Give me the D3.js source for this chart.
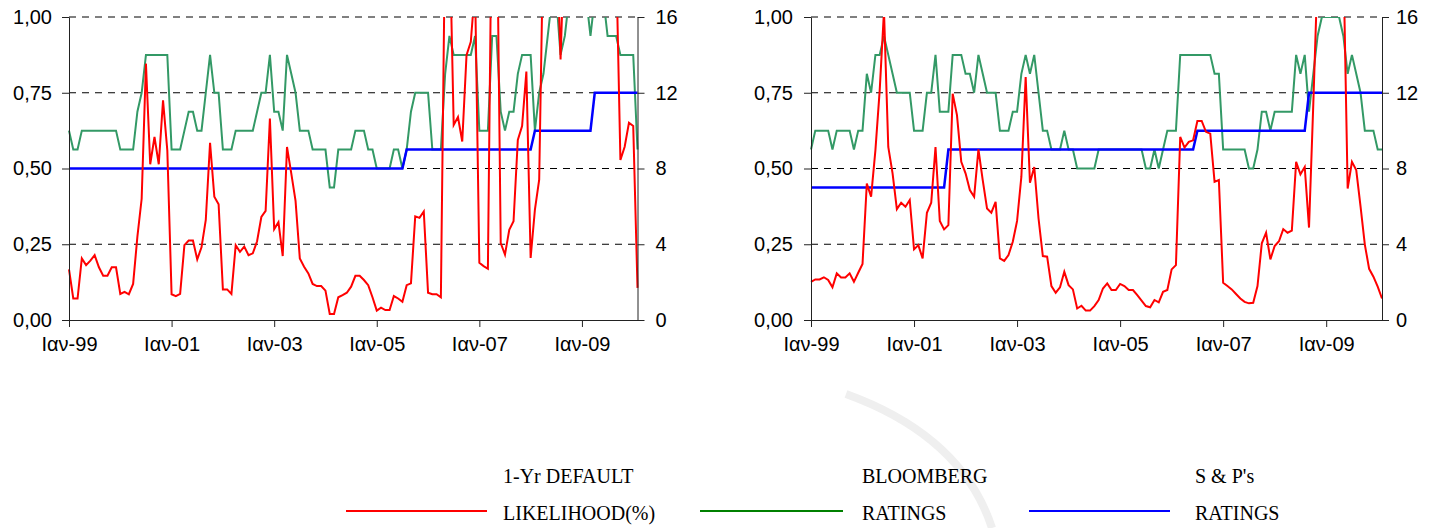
<!DOCTYPE html>
<html>
<head>
<meta charset="utf-8">
<script src="https://cdn.jsdelivr.net/npm/d3@7"></script>
<style>
  body { margin: 0; background: #fff; }
  svg { display: block; }
</style>
</head>
<body>
<svg id="chart" width="1435" height="528"></svg>
<script>
// month index of each x tick (Jan 1999 = 0) and its label
const tickIdx = [0, 24, 48, 72, 96, 120];
const tickLabels = ["Ιαν-99", "Ιαν-01", "Ιαν-03", "Ιαν-05", "Ιαν-07", "Ιαν-09"];
const leftTicks = [0, 0.25, 0.5, 0.75, 1];
const leftTickLabels = ["0,00", "0,25", "0,50", "0,75", "1,00"];
const rightTicks = [0, 4, 8, 12, 16];

// left panel, monthly Jan-99 .. Feb-10
const leftDefault = [
  0.167,0.071,0.071,0.203,0.181,0.196,0.214,0.174,0.146,0.146,
  0.174,0.174,0.086,0.093,0.085,0.119,0.275,0.40,0.846,0.514,
  0.604,0.514,0.725,0.56,0.085,0.079,0.086,0.247,0.262,0.262,
  0.20,0.24,0.33,0.585,0.407,0.382,0.101,0.101,0.086,0.247,
  0.225,0.242,0.214,0.22,0.26,0.34,0.36,0.665,0.30,0.323,
  0.211,0.571,0.484,0.393,0.203,0.176,0.154,0.119,0.112,0.112,
  0.097,0.02,0.02,0.075,0.082,0.09,0.11,0.146,0.146,0.132,
  0.115,0.075,0.031,0.041,0.033,0.033,0.079,0.071,0.06,0.115,
  0.121,0.342,0.337,0.358,0.09,0.085,0.085,0.075,1.3,1.3,
  0.644,0.67,0.589,0.874,0.918,1.1,0.189,0.178,0.169,1.5,
  1.5,0.254,0.216,0.298,0.326,0.594,0.64,0.82,0.205,0.364,
  0.463,1.3,1.3,1.3,1.3,0.86,1.3,1.3,1.3,1.3,
  1.3,1.3,1.3,1.3,1.3,1.3,1.3,1.3,1.2,0.528,
  0.572,0.651,0.64,0.106
];
const leftBloomberg = [
  10,9,9,10,10,10,10,10,10,10,
  10,10,9,9,9,9,11,12,14,14,
  14,14,14,14,9,9,9,10,11,11,
  10,10,12,14,12,12,9,9,9,10,
  10,10,10,10,11,12,12,14,11,11,
  10,14,13,12,10,10,10,9,9,9,
  9,7,7,9,9,9,9,10,10,10,
  9,9,8,8,8,8,9,9,8,9,
  11,12,12,12,12,9,9,9,13,15,
  14,14,14,14,14,15,10,10,10,15,
  15,11,10,11,11,13,14,14,14,10,
  12,13,15,17,17,14,15,17,17,17,
  17,17,15,17,17,17,15,15,15,14,
  14,14,14,9
];
const leftSP = [
  8,8,8,8,8,8,8,8,8,8,
  8,8,8,8,8,8,8,8,8,8,
  8,8,8,8,8,8,8,8,8,8,
  8,8,8,8,8,8,8,8,8,8,
  8,8,8,8,8,8,8,8,8,8,
  8,8,8,8,8,8,8,8,8,8,
  8,8,8,8,8,8,8,8,8,8,
  8,8,8,8,8,8,8,8,8,9,
  9,9,9,9,9,9,9,9,9,9,
  9,9,9,9,9,9,9,9,9,9,
  9,9,9,9,9,9,9,9,9,10,
  10,10,10,10,10,10,10,10,10,10,
  10,10,10,12,12,12,12,12,12,12,
  12,12,12,12
];

// right panel
const rightDefault = [
  0.126,0.134,0.134,0.141,0.132,0.108,0.154,0.14,0.14,0.154,
  0.126,0.156,0.185,0.45,0.407,0.56,0.758,1.02,0.571,0.484,
  0.366,0.387,0.374,0.396,0.233,0.247,0.203,0.354,0.387,0.571,
  0.327,0.299,0.313,0.747,0.676,0.522,0.484,0.429,0.407,0.563,
  0.462,0.368,0.354,0.39,0.203,0.195,0.214,0.258,0.327,0.473,
  0.802,0.453,0.505,0.335,0.211,0.209,0.112,0.09,0.108,0.159,
  0.115,0.101,0.038,0.047,0.031,0.031,0.046,0.066,0.104,0.121,
  0.099,0.099,0.119,0.112,0.099,0.099,0.082,0.064,0.046,0.042,
  0.066,0.058,0.093,0.099,0.167,0.181,0.604,0.569,0.588,0.593,
  0.657,0.657,0.621,0.615,0.456,0.462,0.123,0.112,0.101,0.086,
  0.071,0.06,0.055,0.057,0.112,0.253,0.288,0.2,0.244,0.26,
  0.3,0.288,0.295,0.522,0.481,0.505,0.305,0.714,1.15,1.3,
  1.3,1.3,1.3,1.3,1.2,0.434,0.522,0.495,0.375,0.249,
  0.169,0.143,0.11,0.071
];
const rightBloomberg = [
  9,10,10,10,10,9,10,10,10,10,
  9,10,10,13,12,14,14,15,14,13,
  12,12,12,12,10,10,10,12,12,14,
  11,11,11,14,14,14,13,13,12,14,
  13,12,12,12,10,10,10,11,11,13,
  14,13,14,12,10,10,9,9,9,10,
  9,9,8,8,8,8,8,9,9,9,
  9,9,9,9,9,9,9,9,8,8,
  9,8,9,10,10,10,14,14,14,14,
  14,14,14,14,13,13,9,9,9,9,
  9,9,8,8,9,11,11,10,11,11,
  11,11,11,14,13,14,11,13,15,16,
  16,16,16,16,15,13,14,13,12,10,
  10,10,9,9
];
const rightSP = [
  7,7,7,7,7,7,7,7,7,7,
  7,7,7,7,7,7,7,7,7,7,
  7,7,7,7,7,7,7,7,7,7,
  7,7,9,9,9,9,9,9,9,9,
  9,9,9,9,9,9,9,9,9,9,
  9,9,9,9,9,9,9,9,9,9,
  9,9,9,9,9,9,9,9,9,9,
  9,9,9,9,9,9,9,9,9,9,
  9,9,9,9,9,9,9,9,9,9,
  10,10,10,10,10,10,10,10,10,10,
  10,10,10,10,10,10,10,10,10,10,
  10,10,10,10,10,10,12,12,12,12,
  12,12,12,12,12,12,12,12,12,12,
  12,12,12,12
];

const RED = "#ff0000", GREEN = "#339966", BLUE = "#0000ff";
const svg = d3.select("#chart");
const defs = svg.append("defs");

// faint grey arc in the background
svg.append("path")
  .attr("d", "M 846 394 Q 962 436 992 528")
  .attr("fill", "none")
  .attr("stroke", "#efefef")
  .attr("stroke-width", 8);

function drawPanel(id, opt) {
  let top = 17, bottom = 320;
  let x = d3.scaleLinear().domain([0, opt.def.length - 1]).range([opt.x0, opt.x1]);
  let yL = d3.scaleLinear().domain([0, 1]).range([bottom, top]);
  let yR = d3.scaleLinear().domain([0, 16]).range([bottom, top]);

  defs.append("clipPath").attr("id", "clip" + id)
    .append("rect")
    .attr("x", opt.x0 - 2).attr("y", top)
    .attr("width", opt.x1 - opt.x0 + 6).attr("height", bottom - top);

  let g = svg.append("g");

  // dashed gridlines
  g.selectAll(".grid").data(leftTicks.slice(1)).enter()
    .append("line")
    .attr("x1", opt.x0).attr("x2", opt.x1)
    .attr("y1", d => yL(d)).attr("y2", d => yL(d))
    .attr("stroke", "#000").attr("stroke-width", 1)
    .attr("stroke-dasharray", "7,6");

  let lines = g.append("g").attr("clip-path", `url(#clip${id})`);
  let lineR = d3.line().x((d, i) => x(i)).y(d => yR(d));
  let lineL = d3.line().x((d, i) => x(i)).y(d => yL(d));
  lines.append("path").datum(opt.bb).attr("d", lineR)
    .attr("fill", "none").attr("stroke", GREEN).attr("stroke-width", 2);
  lines.append("path").datum(opt.sp).attr("d", lineR)
    .attr("fill", "none").attr("stroke", BLUE).attr("stroke-width", 2.5);
  lines.append("path").datum(opt.def).attr("d", lineL)
    .attr("fill", "none").attr("stroke", RED).attr("stroke-width", 2);

  // axes
  let ax = g.append("g").attr("transform", `translate(0,${bottom})`)
    .call(d3.axisBottom(x).tickValues(tickIdx)
      .tickFormat((d, i) => tickLabels[i]).tickSize(7).tickSizeOuter(0).tickPadding(10));
  let ayl = g.append("g").attr("transform", `translate(${opt.x0},0)`)
    .call(d3.axisLeft(yL).tickValues(leftTicks)
      .tickFormat((d, i) => leftTickLabels[i]).tickSize(7).tickSizeOuter(0).tickPadding(opt.padL));
  let ayr = g.append("g").attr("transform", `translate(${opt.x1},0)`)
    .call(d3.axisRight(yR).tickValues(rightTicks).tickSize(7).tickSizeOuter(0).tickPadding(opt.padR));

  [ax, ayl, ayr].forEach(a => {
    a.selectAll("path, line").attr("stroke", "#222");
    a.selectAll("text")
      .attr("fill", "#000")
      .style("font-family", "Arial, 'Liberation Sans', sans-serif")
      .style("font-size", "20px");
  });
}

drawPanel("L", {x0: 69, x1: 637.5, def: leftDefault, bb: leftBloomberg, sp: leftSP, padL: 10, padR: 11});
drawPanel("R", {x0: 811, x1: 1382, def: rightDefault, bb: rightBloomberg, sp: rightSP, padL: 11, padR: 7});

// legend
const legendTop = ["1-Yr DEFAULT", "BLOOMBERG", "S & P's"];
const legendBottom = ["LIKELIHOOD(%)", "RATINGS", "RATINGS"];
const legendColors = [RED, "#008000", BLUE];
const legendLineX = [[346, 487], [700, 843], [1029, 1170]];
const legendTextX = [503, 862, 1195];

let lg = svg.append("g");
legendColors.forEach((c, i) => {
  lg.append("line")
    .attr("x1", legendLineX[i][0]).attr("x2", legendLineX[i][1])
    .attr("y1", 511).attr("y2", 511)
    .attr("stroke", c).attr("stroke-width", 2);
  lg.append("text").attr("x", legendTextX[i]).attr("y", 483)
    .style("font-family", "'Times New Roman', 'Liberation Serif', serif")
    .style("font-size", "20px")
    .text(legendTop[i]);
  lg.append("text").attr("x", legendTextX[i]).attr("y", 520)
    .style("font-family", "'Times New Roman', 'Liberation Serif', serif")
    .style("font-size", "20px")
    .text(legendBottom[i]);
});
</script>
</body>
</html>
